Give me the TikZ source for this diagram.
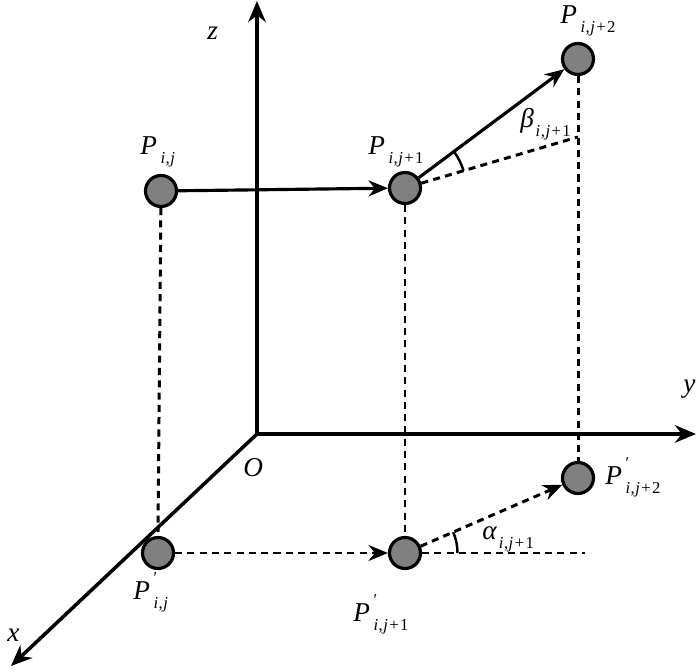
\documentclass[tikz,border=0pt]{standalone}
\usepackage{fontspec}
\setmainfont{Liberation Serif}
\usepackage{tikz}
\usetikzlibrary{arrows.meta}
\usetikzlibrary{positioning}

\newcommand{\ijsub}{\textit{i}\kern0.3pt,\kern0.3pt\textit{j}}
\newcommand{\ptlab}[2]{\textit{P}\makebox[0pt][l]{\raisebox{1.3ex}{\fontsize{9.5}{10}\selectfont\kern2pt#2}}\raisebox{-0.65ex}{\fontsize{9.5}{10}\selectfont\kern2pt#1}}
\newcommand{\anglab}[2]{\textit{#1}\raisebox{-0.65ex}{\fontsize{9.5}{10}\selectfont\kern1pt#2}}

\tikzset{
  ptdot/.style={circle,draw=black,fill=gray,line width=1.8pt,minimum size=0.62cm,inner sep=0pt},
  axisline/.style={line width=2pt,-{Stealth[length=12pt,width=10pt]}},
  moveline/.style={line width=1.8pt,-{Stealth[length=11pt,width=9pt]}},
  projline/.style={line width=1.7pt,dash pattern=on 4pt off 3pt},
  txt/.style={font=\fontsize{15.5}{18}\selectfont,inner sep=0pt,anchor=base west}
}

\begin{document}
\begin{tikzpicture}[line join=round,x=1cm,y=1cm]
\useasboundingbox (0,0) rectangle (14,13.4);

% axes
\coordinate (O) at (5.14,4.72);
\coordinate (ztip) at (5.14,13.38);
\coordinate (ytip) at (13.92,4.72);
\coordinate (xtip) at (0.22,0.08);
\draw[axisline] (O) -- (ztip);
\draw[axisline] (O) -- (ytip);
\draw[axisline] (O) -- (xtip);

% points in space and their projections
\node[ptdot] (p1) at (3.22,9.58) {};
\node[ptdot] (p2) at (8.10,9.64) {};
\node[ptdot] (p3) at (11.56,12.22) {};
\node[ptdot] (q1) at (3.16,2.34) {};
\node[ptdot] (q2) at (8.10,2.34) {};
\node[ptdot] (q3) at (11.56,3.84) {};

\coordinate (r2) at (11.56,10.66);
\coordinate (s2) at (11.70,2.34);

\draw[moveline] (p1) -- (p2);
\draw[moveline] (p2) -- (p3);
\draw[projline] (p2) -- (r2);

\draw[projline,-{Stealth[length=11pt,width=9pt]}] (q1) -- (q2);
\draw[projline,-{Stealth[length=11pt,width=9pt]}] (q2) -- (q3);
\draw[projline] (q2) -- (s2);

\draw[projline] (p1) -- (3.16,2.76);
\draw[projline] (p2) -- (q2);
\draw[projline] (p3) -- (q3);

% angles
\draw[line width=1.4pt] (p2) ++(16.4:1.22) arc[start angle=16.4,end angle=36.7,radius=1.22];
\draw[line width=1.4pt] (q2) ++(0:1.05) arc[start angle=0,end angle=23.4,radius=1.05];

% labels
\node[txt] (zl) at (4.14,12.60) {\textit{z}};
\node[txt] (yl) at (13.66,5.54) {\textit{y}};
\node[txt] (xl) at (0.14,0.56) {\textit{x}};
\node[txt] (ol) at (4.86,3.86) {\textit{O}};

\node[txt] (p1l) at (2.80,10.30) {\ptlab{\ijsub}{}};
\node[txt] (p2l) at (7.36,10.30) {\ptlab{\ijsub\kern0.8pt+\kern0.8pt1}{}};
\node[txt] (p3l) at (11.20,12.92) {\ptlab{\ijsub\kern0.8pt+\kern0.8pt2}{}};
\node[txt] (q1l) at (2.66,1.40) {\ptlab{\ijsub}{′}};
\node[txt] (q2l) at (7.06,0.96) {\ptlab{\ijsub\kern0.8pt+\kern0.8pt1}{′}};
\node[txt] (q3l) at (12.10,3.70) {\ptlab{\ijsub\kern0.8pt+\kern0.8pt2}{′}};

\node[txt] (bl) at (10.40,10.84) {\anglab{β}{\ijsub\kern0.8pt+\kern0.8pt1}};
\node[txt] (al) at (9.64,2.60) {\anglab{α}{\ijsub\kern0.8pt+\kern0.8pt1}};

\end{tikzpicture}
\end{document}
